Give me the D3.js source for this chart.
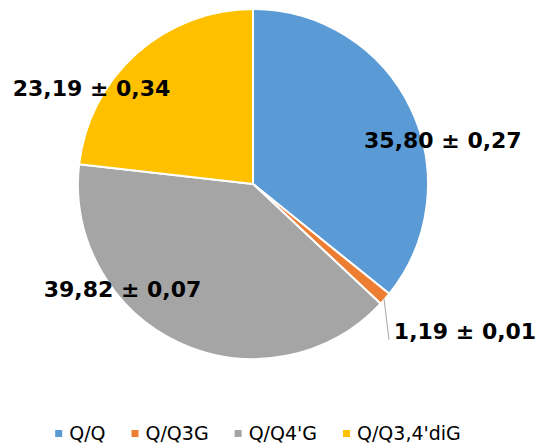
<!DOCTYPE html>
<html>
<head>
<meta charset="utf-8">
<script src="https://cdn.jsdelivr.net/npm/d3@7"></script>
<style>
  body { margin: 0; background: #fff; }
</style>
</head>
<body>
<div id="chart"></div>
<script>
// pie data (percent of total)
var categories = ["Q/Q", "Q/Q3G", "Q/Q4'G", "Q/Q3,4'diG"];
var values = [35.80, 1.19, 39.82, 23.19];
var errors = [0.27, 0.01, 0.07, 0.34];
var colors = ["#5B9BD5", "#ED7D31", "#A5A5A5", "#FFC000"];

var width = 539, height = 447;
var cx = 253, cy = 184, radius = 175;

var svg = d3.select("#chart")
  .append("svg")
  .attr("width", width)
  .attr("height", height);

var g = svg.append("g")
  .attr("transform", "translate(" + cx + "," + cy + ")");

var data = categories.map(function(c, i) {
  return {name: c, value: values[i], err: errors[i], color: colors[i]};
});

var pie = d3.pie()
  .sort(null)
  .value(function(d) { return d.value; });

var arc = d3.arc().innerRadius(0).outerRadius(radius);
var edge = d3.arc().innerRadius(radius).outerRadius(radius);

var arcs = pie(data);

g.selectAll("path.slice")
  .data(arcs)
  .enter()
  .append("path")
  .attr("class", "slice")
  .attr("d", arc)
  .attr("fill", function(d) { return d.data.color; })
  .attr("stroke", "#fff")
  .attr("stroke-width", 2)
  .attr("stroke-linejoin", "round");

// label nudges from the slice edge midpoint (like Excel's dragged labels)
var nudge = [[32, 32], [80, 32], [-57, -54], [-45, 35]];

function fmt(v) { return v.toFixed(2).replace(".", ","); }

function labelPos(d, i) {
  var c = edge.centroid(d);
  return [c[0] + nudge[i][0], c[1] + nudge[i][1]];
}

// leader line for the small slice
var small = arcs[1];
var p0 = edge.centroid(small);
var lp = labelPos(small, 1);
g.append("path")
  .attr("d", d3.line()([[p0[0] - 1, p0[1]], [lp[0] - 76, lp[1] + 9]]))
  .attr("stroke", "#A6A6A6")
  .attr("stroke-width", 1)
  .attr("fill", "none");

g.selectAll("text.lbl")
  .data(arcs)
  .enter()
  .append("text")
  .attr("class", "lbl")
  .attr("x", function(d, i) { return labelPos(d, i)[0]; })
  .attr("y", function(d, i) { return labelPos(d, i)[1]; })
  .attr("dy", "0.36em")
  .attr("text-anchor", "middle")
  .style("font-family", "'DejaVu Sans', Verdana, sans-serif")
  .style("font-weight", "bold")
  .style("font-size", "22px")
  .style("fill", "#000")
  .text(function(d) { return fmt(d.data.value) + " \u00B1 " + fmt(d.data.err); });

// legend
var legend = svg.append("g");
var items = legend.selectAll("g.item")
  .data(data)
  .enter()
  .append("g")
  .attr("class", "item");

items.append("rect")
  .attr("width", 7)
  .attr("height", 7)
  .attr("y", -10)
  .attr("fill", function(d) { return d.color; });

items.append("text")
  .attr("x", 14)
  .attr("y", 0)
  .style("font-family", "'DejaVu Sans', Tahoma, sans-serif")
  .style("font-size", "19px")
  .style("fill", "#000")
  .text(function(d) { return d.name; });

var xoff = 0;
items.each(function() {
  var w = this.getBBox().width;
  d3.select(this).attr("transform", "translate(" + xoff + ",0)");
  xoff += w + 26;
});
var total = xoff - 26;
legend.attr("transform", "translate(" + (258 - total / 2) + ",440)");
</script>
</body>
</html>
